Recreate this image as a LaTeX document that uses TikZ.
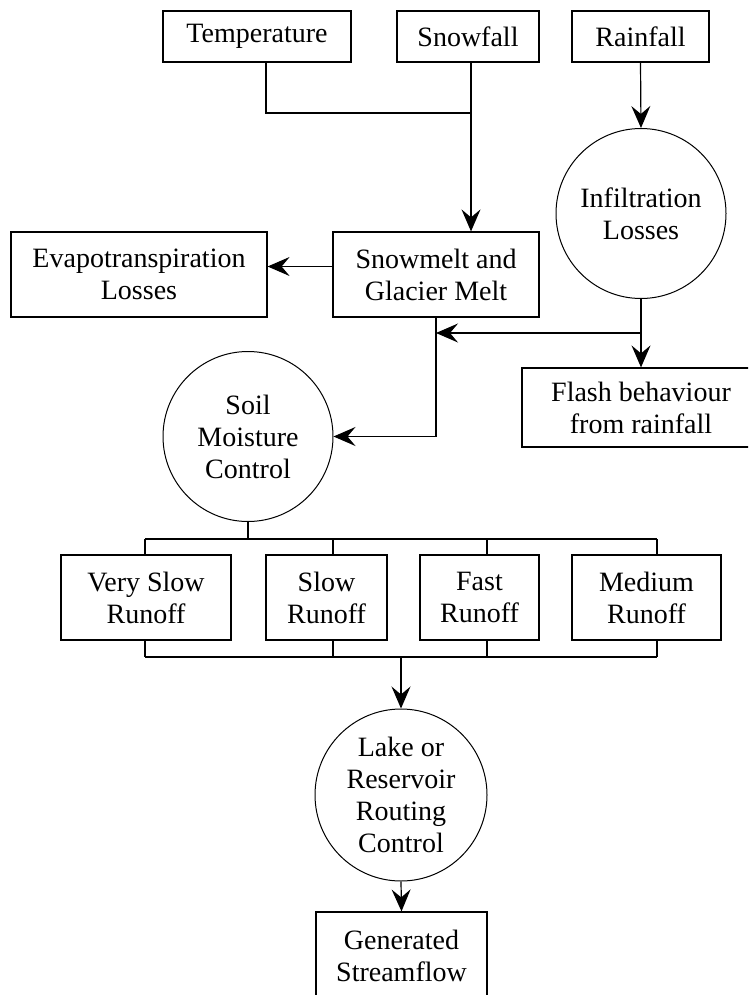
\documentclass[tikz,border=0pt]{standalone}
\usepackage{fontspec}
\setmainfont{Liberation Serif}
\usetikzlibrary{arrows.meta,shapes.geometric,calc}

\tikzset{
  arrowtip/.tip={Stealth[length=22pt,width=19pt,inset=8pt]}
}

\begin{document}
\begin{tikzpicture}[x=1pt,y=-1pt,
  box/.style={draw, rectangle, line width=1.2pt, inner sep=0pt, align=center,
    font=\fontsize{28}{32}\selectfont},
  blob/.style={draw, circle, line width=1pt, inner sep=0pt, minimum size=170pt,
    align=center, font=\fontsize{28}{32}\selectfont},
  wire/.style={line width=1.2pt},
  arr/.style={wire, -arrowtip}]
  % Page frame
  \useasboundingbox (0,0) rectangle (748,995);
  \clip (0,0) rectangle (748,995);

  % Inputs
  \node[box, minimum width=188pt, minimum height=51pt] (temp) at (257,36.5) {Temperature};
  \node[box, minimum width=142pt, minimum height=51pt] (snow) at (468,36.5) {Snowfall};
  \node[box, minimum width=137pt, minimum height=51pt] (rain) at (640.5,36.5) {Rainfall};

  % Melt and losses
  \node[blob] (infil) at (641,213.5) {Infiltration\\Losses};
  \node[box, minimum width=256pt, minimum height=85pt] (evap) at (139,274.5) {Evapotranspiration\\Losses};
  \node[box, minimum width=206pt, minimum height=85pt] (melt) at (436,274.5) {Snowmelt and\\Glacier Melt};
  \node[box, minimum width=238pt, minimum height=79pt] (flash) at (641,407.5) {Flash behaviour\\from rainfall};
  \node[blob] (soil) at (248,436.5) {Soil\\Moisture\\Control};

  % Runoff
  \node[box, minimum width=170pt, minimum height=85pt] (vslow) at (146,597.5) {Very Slow\\Runoff};
  \node[box, minimum width=121pt, minimum height=85pt] (slow) at (326.5,597.5) {Slow\\Runoff};
  \node[box, minimum width=119pt, minimum height=85pt] (fast) at (479.5,597.5) {Fast\\Runoff};
  \node[box, minimum width=149pt, minimum height=85pt] (medium) at (646.5,597.5) {Medium\\Runoff};

  % Routing
  \node[blob, minimum size=172pt] (lake) at (401,795) {Lake or\\Reservoir\\Routing\\Control};
  \node[box, minimum width=171pt, minimum height=88pt] (flow) at (401.5,956) {Generated\\Streamflow};

  % Junctions
  \coordinate (join) at (471,113);
  \coordinate (split) at (641,333);
  \coordinate (fanin) at (248,539);
  \coordinate (fanout) at (401,657);

  \draw[wire] ([xshift=9pt]temp.south) |- (join);
  \draw[arr] (snow.south -| join) -- (melt.north -| join);
  \draw[arr] (rain.south) -- (infil.north);
  \draw[arr] ([yshift=8pt]melt.west) -- ([yshift=8pt]evap.east);
  \draw[arr] (infil.south) -- (flash.north);
  \draw[arr] (split) -- (melt.south |- split);
  \draw[arr] (melt.south) |- (soil.east);

  \draw[wire] (soil.south) -- (fanin);
  \draw[wire] (145,539) -- (657,539);
  \draw[wire] (145,657) -- (657,657);
  \foreach \n/\x in {vslow/145, slow/333, fast/487, medium/657} {
    \draw[wire] (\x,539) -- (\n.north -| \x,0);
    \draw[wire] (\n.south -| \x,0) -- (\x,657);
  }
  \draw[arr] (fanout) -- (lake.north);
  \draw[arr] (lake.south) -- (flow.north);
\end{tikzpicture}
\end{document}
